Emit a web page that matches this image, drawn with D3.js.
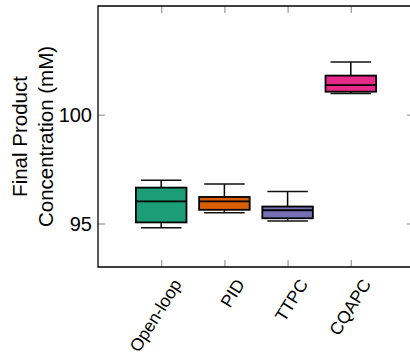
<!DOCTYPE html>
<html><head><meta charset="utf-8">
<script src="https://cdn.jsdelivr.net/npm/d3@7"></script>
<style>body{margin:0;background:#fff}svg{display:block}text{font-family:"Liberation Sans",Arial,sans-serif;fill:#000}</style>
</head><body><svg id="c" width="410" height="358"></svg>
<script>
const categories = ["Open-loop","PID","TTPC","CQAPC"];
const colors = ["#1b9e77","#d95f02","#7570b3","#e7298a"];
const whiskerLow = [94.80, 95.50, 95.11, 100.98];
const q1 = [95.05, 95.63, 95.24, 101.06];
const median = [96.02, 96.02, 95.61, 101.36];
const q3 = [96.65, 96.22, 95.78, 101.80];
const whiskerHigh = [96.99, 96.82, 96.47, 102.42];
const yTicks = [95, 100];
const yLabelLines = ["Final Product", "Concentration (mM)"];

const svg = d3.select("#c");
const L = 98, T = 6, B = 267, R = 414;
const x = d3.scaleLinear().domain([0, 5]).range([L, R]);
const y = d3.scaleLinear().domain([93, 105]).range([B, T]);
const boxW = 0.8, capW = 0.64;

// ticks (gray, inward)
const tickColor = "#a0a0a0";
const xTickPos = categories.map((d,i)=>i+1);
const gb = svg.append("g").attr("transform",`translate(0,${B})`)
  .call(d3.axisBottom(x).tickValues(xTickPos).tickSize(-7).tickFormat(""));
const gt = svg.append("g").attr("transform",`translate(0,${T})`)
  .call(d3.axisTop(x).tickValues(xTickPos).tickSize(-7).tickFormat(""));
const gl = svg.append("g").attr("transform",`translate(${L},0)`)
  .call(d3.axisLeft(y).tickValues(yTicks).tickSize(-7).tickFormat(""));
const gr = svg.append("g").attr("transform",`translate(${R},0)`)
  .call(d3.axisRight(y).tickValues(yTicks).tickSize(-7).tickFormat(""));
[gb,gt,gl,gr].forEach(g=>{
  g.select(".domain").remove();
  g.selectAll(".tick line").attr("stroke",tickColor).attr("stroke-width",1.3);
});

// y tick labels
svg.append("g").selectAll("text").data(yTicks).join("text")
  .attr("x", 92).attr("y", d=>y(d)).attr("dy","0.35em")
  .attr("text-anchor","end").attr("font-size",20).text(d=>d);

// x tick labels
svg.append("g").selectAll("text").data(categories).join("text")
  .attr("text-anchor","end").attr("font-size",17.5)
  .attr("transform",(d,i)=>`translate(${x(i+1)+21},${B+17}) rotate(-58)`)
  .text(d=>d);

// y label
svg.append("g").selectAll("text").data(yLabelLines).join("text")
  .attr("text-anchor","middle").attr("font-size",20.5)
  .attr("transform",(d,i)=>`translate(${i===0?27:53},${(T+B)/2}) rotate(-90)`)
  .text(d=>d);

// boxes
const g = svg.append("g");
categories.forEach((c,i)=>{
  const cx = i+1;
  g.append("line").attr("x1",x(cx)).attr("x2",x(cx)).attr("y1",y(whiskerLow[i])).attr("y2",y(q1[i]))
    .attr("stroke","#000").attr("stroke-width",1.5);
  g.append("line").attr("x1",x(cx)).attr("x2",x(cx)).attr("y1",y(q3[i])).attr("y2",y(whiskerHigh[i]))
    .attr("stroke","#000").attr("stroke-width",1.5);
  [whiskerLow[i], whiskerHigh[i]].forEach(v=>{
    g.append("line").attr("x1",x(cx-capW/2)).attr("x2",x(cx+capW/2)).attr("y1",y(v)).attr("y2",y(v))
      .attr("stroke","#111").attr("stroke-width",1.5);
  });
  g.append("rect").attr("x",x(cx-boxW/2)).attr("width",x(cx+boxW/2)-x(cx-boxW/2))
    .attr("y",y(q3[i])).attr("height",y(q1[i])-y(q3[i]))
    .attr("fill",colors[i]).attr("stroke","#000").attr("stroke-width",1.8);
  g.append("line").attr("x1",x(cx-boxW/2)).attr("x2",x(cx+boxW/2)).attr("y1",y(median[i])).attr("y2",y(median[i]))
    .attr("stroke","#000").attr("stroke-width",1.8);
});

// frame
svg.append("path").attr("d",`M${R},${T}H${L}V${B}H${R}`).attr("fill","none").attr("stroke","#000").attr("stroke-width",1.3);
</script></body></html>
